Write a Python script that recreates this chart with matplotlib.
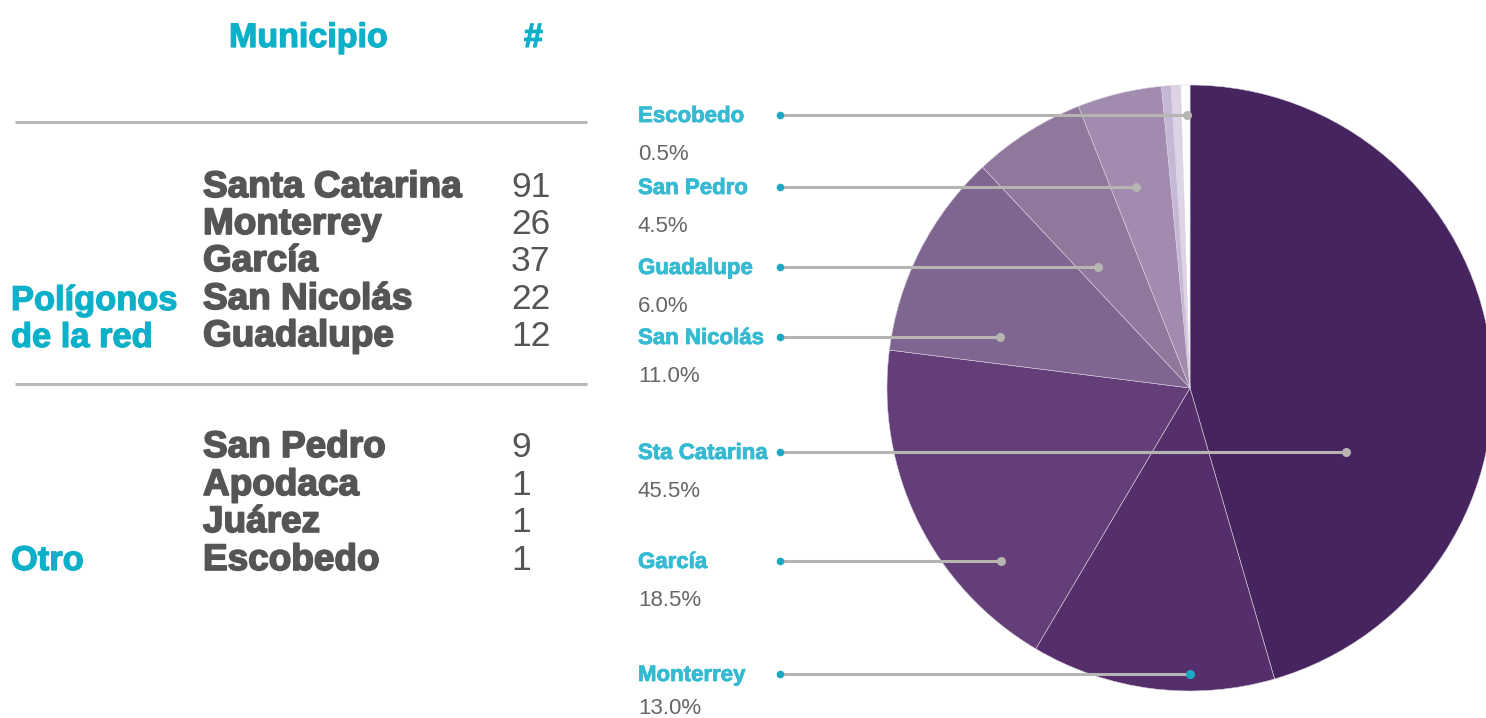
import matplotlib.pyplot as plt
import matplotlib.patheffects as pe

# datos de la tabla
municipios = ['Santa Catarina', 'Monterrey', 'García', 'San Nicolás', 'Guadalupe',
              'San Pedro', 'Apodaca', 'Juárez', 'Escobedo']
conteos = [91, 26, 37, 22, 12, 9, 1, 1, 1]

# etiquetas del pastel (lado derecho), de arriba a abajo
etiquetas_pie = ['Escobedo', 'San Pedro', 'Guadalupe', 'San Nicolás',
                 'Sta Catarina', 'García', 'Monterrey']
indices_pie = [8, 5, 4, 3, 0, 2, 1]

colores = ['#45245f', '#552f6b', '#633e78', '#7f6690', '#8f789c',
           '#a18bae', '#c4b8d4', '#dcd4e5', '#ffffff']

CYAN = '#0db0c9'
CYAN2 = '#35bad2'
GRIS = '#555555'
GRIS_LINEA = '#b7b5b2'
FUENTE = 'Liberation Sans'

W, H = 1486, 718
fig = plt.figure(figsize=(W / 100, H / 100), dpi=100)

# pastel: centro (1190, 388), radio 303 px
cx, cy, r = 1190, 388, 303
ax_pie = fig.add_axes([(cx - r) / W, (H - cy - r) / H, 2 * r / W, 2 * r / H])
ax_pie.pie(conteos, colors=colores, startangle=90, counterclock=False,
           wedgeprops=dict(edgecolor='#d8d0e0', linewidth=0.4))
ax_pie.set_xlim(-1, 1)
ax_pie.set_ylim(-1, 1)
ax_pie.set_aspect('equal')
ax_pie.axis('off')

# capa de texto en pixeles
ax = fig.add_axes([0, 0, 1, 1], zorder=5)
ax.set_xlim(0, W)
ax.set_ylim(H, 0)
ax.axis('off')
ax.patch.set_alpha(0)


def grueso(color, w=0.9):
    # el original usa una negrita mas pesada
    return [pe.withStroke(linewidth=w, foreground=color)]


# encabezados
ax.text(229, 47, 'Municipio', color=CYAN, fontsize=24.5, fontweight='bold',
        family=FUENTE, va='baseline', path_effects=grueso(CYAN))
ax.text(524, 47, '#', color=CYAN, fontsize=24.5, fontweight='bold',
        family=FUENTE, va='baseline', path_effects=grueso(CYAN))

for y in (122, 384):
    ax.plot([15, 587], [y, y], color='#b8b8b8', lw=2.2, solid_capstyle='butt')

bases = [197, 234, 271, 309, 346, 457, 495, 532, 570]
for nombre, n, yb in zip(municipios, conteos, bases):
    ax.text(203, yb, nombre, color=GRIS, fontsize=26.6, fontweight='bold',
            family=FUENTE, va='baseline', path_effects=grueso(GRIS, 1.2))
    ax.text(511, yb, str(n), color=GRIS, fontsize=25.5, family=FUENTE, va='baseline')

ax.text(11, 310, 'Polígonos', color=CYAN, fontsize=24.8, fontweight='bold',
        family=FUENTE, va='baseline', path_effects=grueso(CYAN))
ax.text(11, 347, 'de la red', color=CYAN, fontsize=24.8, fontweight='bold',
        family=FUENTE, va='baseline', path_effects=grueso(CYAN))
ax.text(11, 570, 'Otro', color=CYAN, fontsize=24.8, fontweight='bold',
        family=FUENTE, va='baseline', path_effects=grueso(CYAN))

# etiquetas del pastel con lineas guia
total = sum(conteos)
y_lineas = [115, 187, 267, 337, 452, 561, 674]
x_fin = [1187, 1136, 1098, 1000, 1346, 1001, 1190]
for etq, i, yl, xf in zip(etiquetas_pie, indices_pie, y_lineas, x_fin):
    pct = conteos[i] / total * 100
    ax.text(638, yl + 7, etq, color=CYAN2, fontsize=16, fontweight='bold',
            family=FUENTE, va='baseline', path_effects=grueso(CYAN2, 0.6))
    yp = min(yl + 45, 714)
    ax.text(638, yp, f'{pct:.1f}%', color='#666666', fontsize=16,
            family=FUENTE, va='baseline')
    ax.plot([780, xf], [yl, yl], color=GRIS_LINEA, lw=2.2, solid_capstyle='butt')
    ax.plot(780, yl, 'o', color='#19a9c3', ms=5.5, mec='none')
    color_fin = '#19a9c3' if etq == 'Monterrey' else GRIS_LINEA
    ax.plot(xf, yl, 'o', color=color_fin, ms=6.5, mec='none')

fig.savefig('out.png', dpi=100, facecolor='white')
